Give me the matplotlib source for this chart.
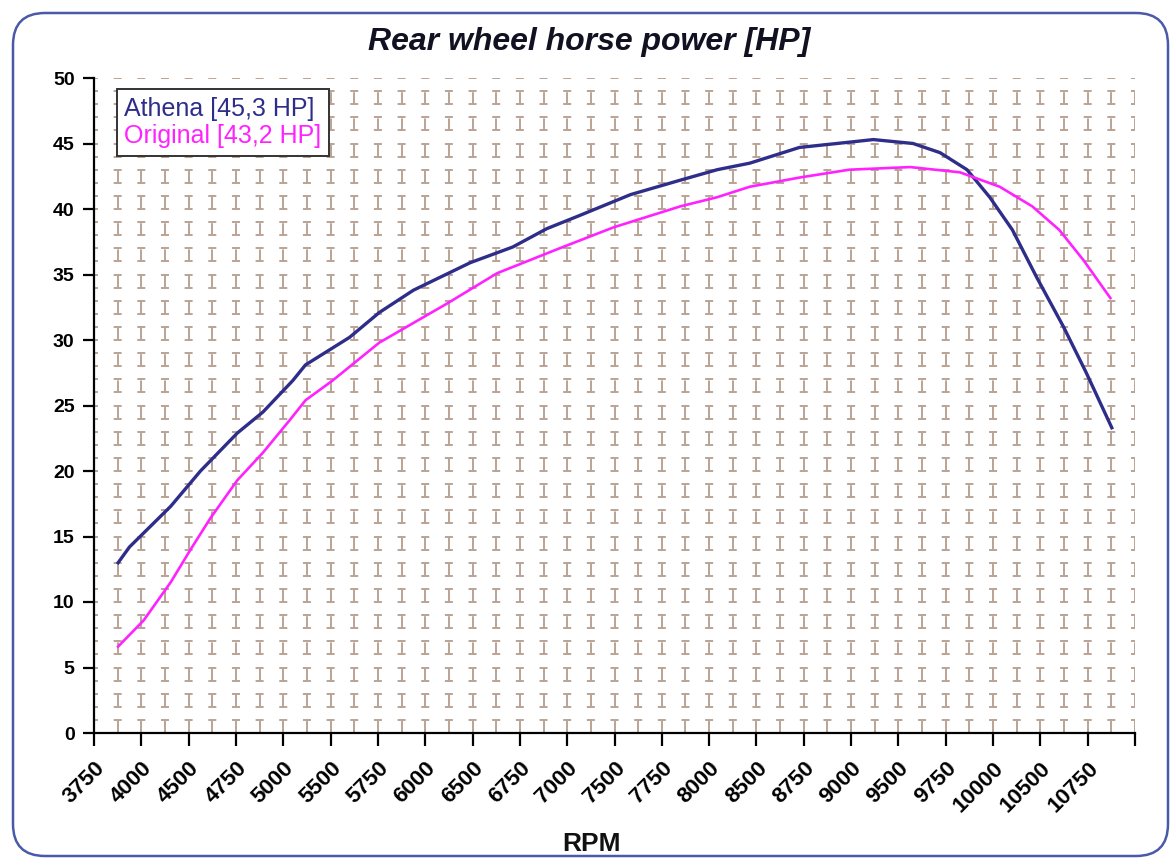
import matplotlib
matplotlib.use('Agg')
import matplotlib.pyplot as plt
from matplotlib.patches import FancyBboxPatch

# ─────────────────────────────────────────────────────────────
# Dados
# ─────────────────────────────────────────────────────────────
athena_rpm = [3920, 4000, 4290, 4500, 4760, 4940, 5150, 5240, 5550, 5760,
              6000, 6400, 6700, 6940, 7170, 7530, 7880, 8140, 8370, 8720,
              9070, 9240, 9520, 9710, 9900, 10060, 10220, 10390, 10580,
              10740, 10920]
athena_hp = [13.0, 14.2, 17.3, 20.0, 22.9, 24.5, 26.9, 28.1, 30.2, 32.1,
             33.8, 35.9, 37.1, 38.5, 39.5, 41.1, 42.2, 43.0, 43.5, 44.7,
             45.1, 45.3, 45.0, 44.3, 43.0, 40.9, 38.4, 34.8, 31.0,
             27.5, 23.3]

original_rpm = [3920, 4100, 4290, 4430, 4570, 4760, 4940, 5130, 5240, 5430,
                5760, 6240, 6590, 7030, 7410, 7880, 8140, 8370, 8720, 9070,
                9500, 9850, 10130, 10360, 10550, 10720, 10910]
original_hp = [6.6, 8.6, 11.5, 14.0, 16.4, 19.3, 21.4, 23.9, 25.4, 26.9,
               29.8, 32.8, 35.1, 37.0, 38.6, 40.2, 40.9, 41.7, 42.4, 43.0,
               43.2, 42.8, 41.7, 40.2, 38.4, 36.1, 33.2]

rpm_labels = ['3750', '4000', '4500', '4750', '5000', '5500', '5750', '6000',
              '6500', '6750', '7000', '7500', '7750', '8000', '8500', '8750',
              '9000', '9500', '9750', '10000', '10500', '10750']
rpm_start = 3750
rpm_step = 1000 / 3          # categorias do Excel a cada ~333 rpm
hp_ticks = [0, 5, 10, 15, 20, 25, 30, 35, 40, 45, 50]

series_names = ['Athena [45,3 HP]', 'Original [43,2 HP]']
series_colors = ['#2e2e8a', '#ff22ff']

# ─────────────────────────────────────────────────────────────
# Figura
# ─────────────────────────────────────────────────────────────
plt.rcParams['font.family'] = ['Liberation Sans', 'DejaVu Sans']
plt.rcParams['lines.scale_dashes'] = False

W, H, DPI = 1173, 859, 100
fig = plt.figure(figsize=(W / DPI, H / DPI), dpi=DPI, facecolor='white')

# moldura arredondada
bg = fig.add_axes([0, 0, 1, 1], zorder=-5)
bg.set_xlim(0, W)
bg.set_ylim(H, 0)
bg.axis('off')
bg.add_patch(FancyBboxPatch((13, 13), 1155, 843,
                            boxstyle='round,pad=0,rounding_size=32',
                            fc='white', ec='#4a5aa8', lw=1.8))

ax_l, ax_r, ax_t, ax_b = 94, 1135, 78, 733
ax = fig.add_axes([ax_l / W, (H - ax_b) / H, (ax_r - ax_l) / W, (ax_b - ax_t) / H])
ax.set_facecolor('none')

n_cat = len(rpm_labels)
x_max = rpm_start + n_cat * rpm_step
ax.set_xlim(rpm_start, x_max)
ax.set_ylim(0, 50)

# grade tracejada (padrão Excel)
grid_color = '#b9a395'
col_px = (ax_r - ax_l) / (2 * n_cat)
row_px = (ax_b - ax_t) / 50
px2pt = 72 / DPI
col_pt = col_px * px2pt
row_pt = row_px * px2pt
h_dash = 8 * px2pt
v_dash = 12 * px2pt
for hp in range(1, 51):
    ax.axhline(hp, color=grid_color, lw=1.4, zorder=0,
               linestyle=(h_dash / 2, (h_dash, col_pt - h_dash)))
for k in range(1, 2 * n_cat + 1):
    ax.axvline(rpm_start + k * rpm_step / 2, color=grid_color, lw=1.4, zorder=0,
               linestyle=(0, (v_dash, 2 * row_pt - v_dash)))

# curvas
ax.plot(athena_rpm, athena_hp, color=series_colors[0], lw=2.4,
        label=series_names[0], zorder=3)
ax.plot(original_rpm, original_hp, color=series_colors[1], lw=1.9,
        label=series_names[1], zorder=3)

# eixos
for side in ['top', 'right']:
    ax.spines[side].set_visible(False)
ax.spines['left'].set_linewidth(1.6)
ax.spines['bottom'].set_linewidth(1.6)

ax.set_yticks(hp_ticks)
ax.set_yticklabels([str(v) for v in hp_ticks], fontsize=14, fontweight='bold')
ax.set_xticks([rpm_start + i * rpm_step for i in range(n_cat + 1)])
ax.set_xticklabels(rpm_labels + [''], rotation=45, ha='right',
                   rotation_mode='anchor', fontsize=16, fontweight='bold')
ax.tick_params(axis='y', length=8, width=1.6, pad=6)
ax.tick_params(axis='x', length=9, width=1.6, pad=9)

leg = ax.legend(loc='upper left', bbox_to_anchor=(0.022, 0.983), handlelength=0,
                handletextpad=0, fancybox=False, framealpha=1, edgecolor='#333333',
                prop={'size': 18}, borderpad=0.3, labelspacing=0.15,
                borderaxespad=0)
leg.get_frame().set_linewidth(1.4)
for txt, c in zip(leg.get_texts(), series_colors):
    txt.set_color(c)
for h in leg.legend_handles:
    h.set_visible(False)

fig.text(589 / W, 1 - 42 / H, 'Rear wheel horse power [HP]', ha='center',
         va='center', fontsize=23, fontweight='bold', fontstyle='italic',
         color='#111122')
fig.text(591 / W, 1 - 844 / H, 'RPM', ha='center', va='center',
         fontsize=19, fontweight='bold', color='#111111')

fig.savefig('out.png', dpi=DPI, facecolor='white')
plt.close(fig)
